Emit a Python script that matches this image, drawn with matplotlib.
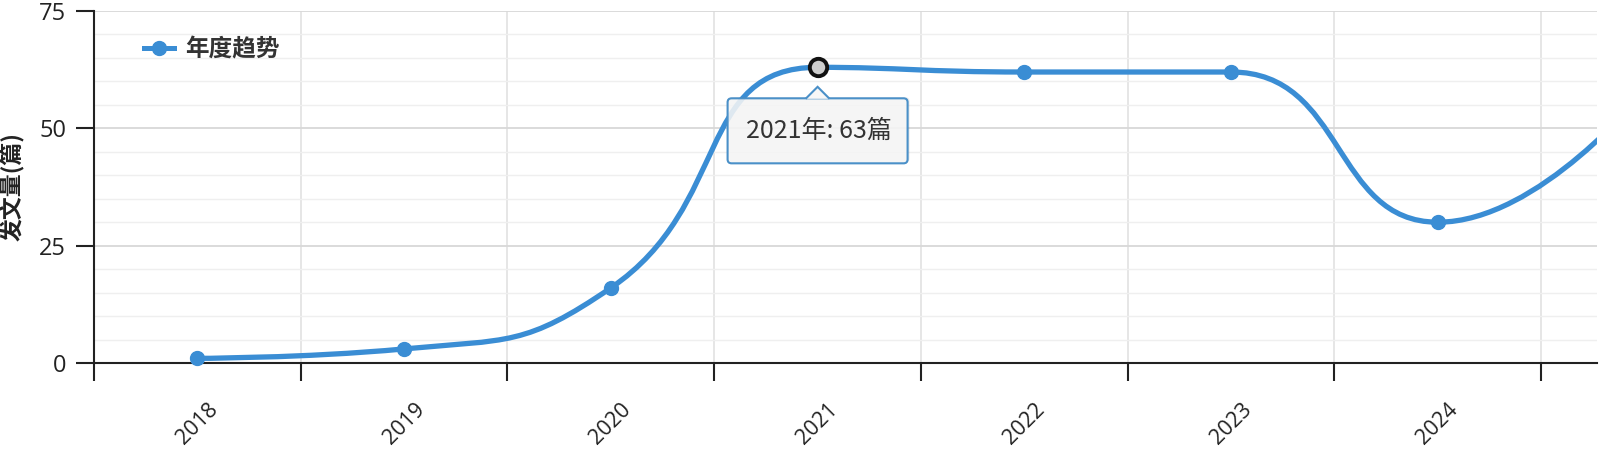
import matplotlib
matplotlib.use('Agg')
import numpy as np
import matplotlib.pyplot as plt
import matplotlib.transforms as mtransforms
from matplotlib.path import Path
from matplotlib.patches import PathPatch, FancyBboxPatch, Polygon
from matplotlib.lines import Line2D

plt.rcParams['font.family'] = ['Open Sans', 'Noto Sans CJK SC', 'DejaVu Sans']
cjk = ['Noto Sans CJK SC', 'DejaVu Sans']

# 数据
years = ['2018', '2019', '2020', '2021', '2022', '2023', '2024', '2025']
counts = [1, 3, 16, 63, 62, 62, 30, 58]
highlight = 3  # tooltip 指向 2021
series_name = '年度趋势'
y_label = '发文量(篇)'
tip_text = f'{years[highlight]}年: {counts[highlight]}篇'

line_color = '#3a8dd4'


def smooth_bezier(pts, smooth=0.5):
    # echarts 风格的平滑曲线 (控制点截断, 不越过相邻点)
    verts = [tuple(pts[0])]
    codes = [Path.MOVETO]
    cp0 = tuple(pts[0])
    n = len(pts)
    for i in range(1, n):
        x, y = pts[i]
        px, py = pts[i - 1]
        if i == n - 1:
            cp1 = (x, y)
            nxt = None
        else:
            nx, ny = pts[i + 1]
            vx, vy = nx - px, ny - py
            len_prev = np.hypot(x - px, y - py)
            len_next = np.hypot(nx - x, ny - y)
            r = len_next / (len_next + len_prev)
            ncx = x + vx * smooth * r
            ncy = y + vy * smooth * r
            ncx = min(max(ncx, min(nx, x)), max(nx, x))
            ncy = min(max(ncy, min(ny, y)), max(ny, y))
            vx, vy = ncx - x, ncy - y
            c1x = x - vx * len_prev / len_next
            c1y = y - vy * len_prev / len_next
            c1x = min(max(c1x, min(px, x)), max(px, x))
            c1y = min(max(c1y, min(py, y)), max(py, y))
            vx, vy = x - c1x, y - c1y
            nxt = (x + vx * len_next / len_prev, y + vy * len_next / len_prev)
            cp1 = (c1x, c1y)
        verts += [cp0, cp1, (x, y)]
        codes += [Path.CURVE4] * 3
        cp0 = nxt
    return np.array(verts), codes


fig = plt.figure(figsize=(16, 4.5), dpi=100)
ax = fig.add_axes([94 / 1600, 1 - 363 / 450, 1503 / 1600, 352 / 450])
xs = np.arange(len(years))

# 坐标轴
ax.set_xticks(xs, years)
ax.set_xticks(np.arange(-0.5, len(years)), minor=True)
ax.tick_params(axis='x', which='major', length=0, pad=26, labelsize=15.5,
               labelcolor='#222222')
ax.tick_params(axis='x', which='minor', length=13, width=1.5, color='#222222')
plt.setp(ax.get_xticklabels(), rotation=45, ha='center')

ax.set_yticks([0, 25, 50, 75])
ax.set_yticks(np.arange(0, 76, 5), minor=True)
ax.tick_params(axis='y', which='major', length=13, width=1.5, pad=7,
               labelsize=17, color='#222222', labelcolor='#222222')
ax.tick_params(axis='y', which='minor', length=0)

ax.set_xlim(-0.5, 6.77)
ax.set_ylim(0, 75)

ax.grid(which='minor', axis='x', color='#e2e2e2', lw=1.2)
ax.grid(which='major', axis='y', color='#d8d8d8', lw=1.3)
ax.grid(which='minor', axis='y', color='#efefef', lw=1.0)
ax.set_axisbelow(True)

for s in ['top', 'right']:
    ax.spines[s].set_visible(False)
for s in ['left', 'bottom']:
    ax.spines[s].set_linewidth(1.5)
    ax.spines[s].set_color('#222222')

# 平滑曲线 (在像素坐标下计算控制点)
disp = ax.transData.transform(np.column_stack([xs, counts]))
verts, codes = smooth_bezier(disp)
curve = Path(ax.transData.inverted().transform(verts), codes)
ax.add_patch(PathPatch(curve, fill=False, ec=line_color, lw=3.8,
                       capstyle='round', joinstyle='round', zorder=3))

ax.plot(xs, counts, 'o', ms=10, color=line_color, zorder=4, clip_on=False)
ax.plot(xs[highlight], counts[highlight], 'o', ms=12.5, mfc='#cdcdcd',
        mec='#111111', mew=2.8, zorder=7)
ax.set_xlim(-0.5, 6.77)

ax.set_ylabel(y_label, fontsize=16.5, fontweight='bold', family=cjk,
              color='#222222')
ax.yaxis.set_label_coords(-0.046, 0.5)

# 图例
handle = Line2D([], [], color=line_color, lw=3.6, marker='o', ms=10)
ax.legend([handle], [series_name], loc='center left',
          bbox_to_anchor=(0.033, 0.892), frameon=False, borderaxespad=0,
          borderpad=0, handlelength=1.3, handletextpad=0.45, labelcolor='#333333',
          prop=dict(family=cjk, weight='bold', size=17))

# 提示框 (相对数据点的像素偏移)
anchor = ax.transData.transform((xs[highlight], counts[highlight]))
tip = mtransforms.Affine2D().translate(*anchor)
ax.add_patch(FancyBboxPatch((-88, -95), 180, 65, boxstyle='round,pad=0,rounding_size=4',
                            fc='#000000', alpha=0.08, ec='none', transform=tip,
                            zorder=5, clip_on=False))
ax.add_patch(FancyBboxPatch((-90, -96), 180, 65, boxstyle='round,pad=0,rounding_size=4',
                            fc=(0.97, 0.97, 0.97, 0.88), ec='#4a90c8', lw=1.5,
                            transform=tip, zorder=6, clip_on=False))
ax.add_patch(Polygon([(-12, -31.5), (0, -19.5), (12, -31.5)], closed=False,
                     fc=(0.97, 0.97, 0.97), ec='#4a90c8', lw=1.5,
                     transform=tip, zorder=6, clip_on=False))
ax.text(1, -64, tip_text, transform=tip, ha='center', va='center',
        fontsize=18, color='#333333', family=cjk, zorder=7)

fig.savefig('out.png', dpi=100)
